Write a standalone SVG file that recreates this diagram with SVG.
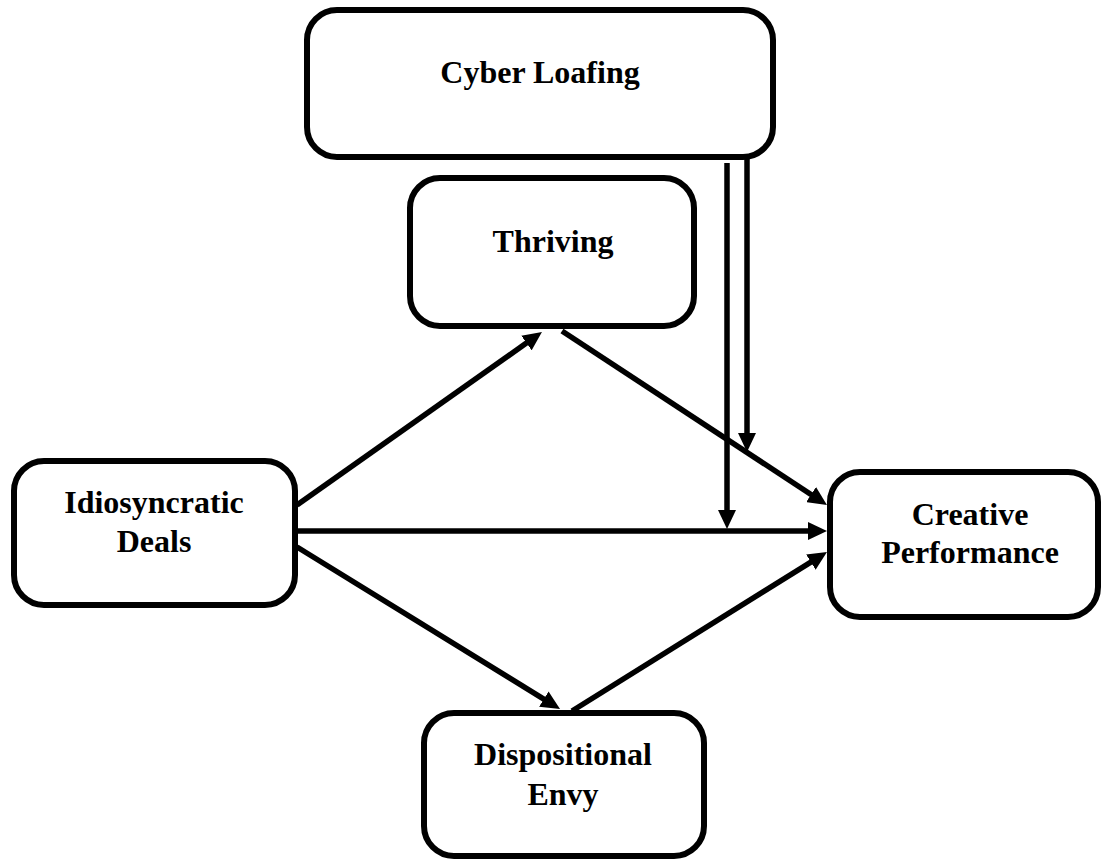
<svg xmlns="http://www.w3.org/2000/svg" width="1103" height="860" viewBox="0 0 1103 860">
  <style>
    .box { fill: #ffffff; stroke: #000000; stroke-width: 6; }
    .label { font-family: "Liberation Serif", "Times New Roman", serif; font-weight: bold; font-size: 32px; fill: #000000; text-anchor: middle; }
    .link { stroke: #000000; stroke-width: 5.5; fill: none; marker-end: url(#head); }
  </style>
  <defs>
    <marker id="head" markerUnits="userSpaceOnUse" viewBox="0 0 19 18" markerWidth="19" markerHeight="18" refX="9" refY="9" orient="auto">
      <path d="M0,0 L19,9 L0,18 z" fill="#000000"/>
    </marker>
  </defs>
  <rect width="1103" height="860" fill="#ffffff"/>

  <g id="connectors">
    <line class="link" x1="297" y1="505" x2="533.8" y2="337.8"/>
    <line class="link" x1="562" y1="331" x2="818.6" y2="499.5"/>
    <line class="link" x1="297" y1="531" x2="817" y2="531"/>
    <line class="link" x1="297" y1="547" x2="551.5" y2="703.8"/>
    <line class="link" x1="572" y1="711" x2="818.5" y2="557.3"/>
    <line class="link" x1="727" y1="163" x2="727" y2="519"/>
    <line class="link" x1="747" y1="158" x2="747" y2="442"/>
  </g>

  <g id="cyber-loafing">
    <rect class="box" x="307" y="10" width="466" height="147" rx="30" ry="30"/>
    <text class="label" x="540" y="83">Cyber Loafing</text>
  </g>

  <g id="thriving">
    <rect class="box" x="410" y="178" width="284" height="148" rx="30" ry="30"/>
    <text class="label" x="553" y="252">Thriving</text>
  </g>

  <g id="idiosyncratic-deals">
    <rect class="box" x="14" y="461" width="281" height="144" rx="30" ry="30"/>
    <text class="label" x="154" y="513">Idiosyncratic</text>
    <text class="label" x="154" y="552">Deals</text>
  </g>

  <g id="creative-performance">
    <rect class="box" x="830" y="472" width="268" height="145" rx="30" ry="30"/>
    <text class="label" x="970" y="525">Creative</text>
    <text class="label" x="970" y="563">Performance</text>
  </g>

  <g id="dispositional-envy">
    <rect class="box" x="424" y="713" width="280" height="143" rx="30" ry="30"/>
    <text class="label" x="563" y="765">Dispositional</text>
    <text class="label" x="563" y="805">Envy</text>
  </g>
</svg>
